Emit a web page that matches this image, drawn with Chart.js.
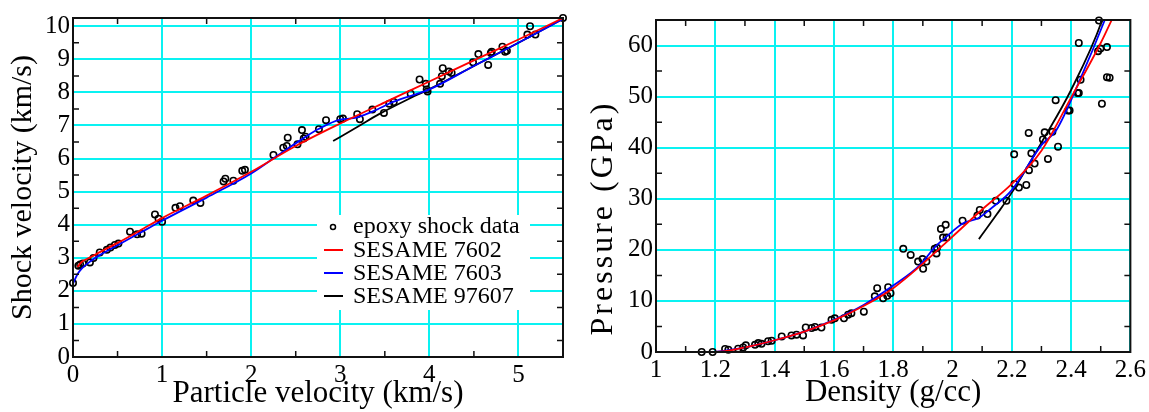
<!DOCTYPE html>
<html>
<head>
<meta charset="utf-8">
<script src="https://cdn.jsdelivr.net/npm/chart.js@4.4.1/dist/chart.umd.min.js"></script>
<style>
  html, body { margin: 0; padding: 0; background: #fff; }
  #wrap { position: relative; width: 1149px; height: 412px; overflow: hidden; }
  canvas { position: absolute; top: 0; }
  #hugoniotUs { left: 0; }
  #hugoniotP { left: 580px; }
</style>
</head>
<body>
<div id="wrap">
  <canvas id="hugoniotUs" width="575" height="412"></canvas>
  <canvas id="hugoniotP" width="569" height="412"></canvas>
</div>
<script>
// ---- Left panel: shock velocity vs particle velocity (km/s) ----
const usTicksX = [0, 1, 2, 3, 4, 5];
const usTicksY = [0, 1, 2, 3, 4, 5, 6, 7, 8, 9, 10];

const usData = [
  [0, 2.24], [0.06, 2.76], [0.08, 2.80], [0.11, 2.83], [0.19, 2.86], [0.23, 2.99],
  [0.30, 3.16], [0.38, 3.24], [0.42, 3.31], [0.47, 3.39], [0.51, 3.43], [0.64, 3.79],
  [0.72, 3.71], [0.77, 3.73], [0.92, 4.31], [0.96, 4.18], [1.00, 4.09], [1.15, 4.51],
  [1.20, 4.56], [1.35, 4.73], [1.43, 4.66], [1.69, 5.31], [1.71, 5.39], [1.80, 5.33],
  [1.90, 5.63], [1.93, 5.66], [2.25, 6.11], [2.36, 6.33], [2.40, 6.38], [2.41, 6.63],
  [2.52, 6.43], [2.59, 6.61], [2.61, 6.66], [2.57, 6.86], [2.76, 6.89], [2.84, 7.16],
  [3.00, 7.19], [3.03, 7.21], [3.19, 7.34], [3.22, 7.19], [3.36, 7.48], [3.49, 7.38],
  [3.55, 7.66], [3.60, 7.71], [3.79, 7.96], [3.89, 8.39], [3.96, 8.26], [3.97, 8.09],
  [3.98, 8.03], [4.12, 8.26], [4.14, 8.49], [4.15, 8.73], [4.22, 8.63], [4.25, 8.59],
  [4.49, 8.91], [4.55, 9.16], [4.66, 8.83], [4.69, 9.19], [4.70, 9.23], [4.82, 9.38],
  [4.85, 9.23], [4.87, 9.26], [5.10, 9.75], [5.13, 10.0], [5.19, 9.75], [5.50, 10.25]
];
const us7602 = [
  [0.05, 2.72], [0.1, 2.88], [0.2, 3.02], [0.3, 3.17], [0.5, 3.45], [0.75, 3.82],
  [1, 4.2], [1.5, 4.88], [2, 5.6], [2.5, 6.38], [3, 7.06], [3.5, 7.7], [4, 8.33],
  [4.5, 8.97], [5, 9.6], [5.5, 10.25]
];
const us7603 = [
  [0, 2.22], [0.05, 2.5], [0.1, 2.68], [0.2, 2.9], [0.3, 3.08], [0.5, 3.38],
  [0.75, 3.75], [1, 4.12], [1.5, 4.82], [2, 5.55], [2.3, 6.1], [2.55, 6.55],
  [2.76, 6.9], [3.0, 7.18], [3.15, 7.22], [3.36, 7.42], [3.6, 7.72], [4, 8.09],
  [4.5, 8.8], [5, 9.5], [5.5, 10.22]
];
const us97607 = [
  [2.92, 6.53], [3.2, 6.97], [3.44, 7.35], [3.75, 7.78], [4, 8.1], [4.5, 8.8],
  [5, 9.5], [5.5, 10.23]
];

// ---- Right panel: pressure (GPa) vs density (g/cc) ----
const pTicksX = [1, 1.2, 1.4, 1.6, 1.8, 2, 2.2, 2.4, 2.6];
const pTicksY = [0, 10, 20, 30, 40, 50, 60];

const pData = [
  [1.154, 0], [1.191, 0], [1.233, 0.6], [1.244, 0.45], [1.277, 0.65], [1.294, 0.9],
  [1.303, 1.3], [1.334, 1.4], [1.345, 1.75], [1.356, 1.6], [1.378, 2.1], [1.39, 2.2],
  [1.424, 3.05], [1.457, 3.25], [1.474, 3.4], [1.496, 3.25], [1.505, 4.8], [1.525, 4.7],
  [1.536, 4.9], [1.558, 4.8], [1.592, 6.3], [1.603, 6.6], [1.634, 6.6], [1.648, 7.3],
  [1.659, 7.6], [1.701, 7.9], [1.738, 10.9], [1.746, 12.5], [1.766, 10.5], [1.78, 11.0],
  [1.783, 12.7], [1.791, 11.5], [1.834, 20.2], [1.859, 19.0], [1.884, 17.7], [1.899, 18.2],
  [1.901, 16.3], [1.912, 17.7], [1.940, 20.2], [1.946, 19.3], [1.948, 20.4], [1.961, 24.1],
  [1.968, 22.4], [1.977, 24.9], [1.980, 22.4], [2.034, 25.7], [2.084, 26.7], [2.092, 27.8],
  [2.118, 27.0], [2.146, 29.6], [2.182, 29.6], [2.209, 32.9], [2.224, 32.2], [2.249, 32.7],
  [2.208, 38.7], [2.258, 35.6], [2.266, 38.9], [2.277, 36.9], [2.257, 42.9], [2.305, 41.6],
  [2.311, 43.0], [2.337, 43.1], [2.322, 37.8], [2.356, 40.2], [2.348, 49.3], [2.39, 47.3],
  [2.395, 47.3], [2.422, 50.7], [2.426, 50.7], [2.432, 53.3], [2.426, 60.5], [2.491, 58.9],
  [2.499, 59.4], [2.494, 64.9], [2.521, 59.7], [2.504, 48.6], [2.521, 53.8], [2.530, 53.7]
];
const p7602 = [
  [1.0, 0], [1.2, 0], [1.3, 0.9], [1.4, 2.3], [1.5, 4.0], [1.6, 6.2], [1.7, 9.0],
  [1.8, 12.5], [1.9, 17.3], [2.0, 22.6], [2.1, 27.9], [2.2, 32.9], [2.3, 39.4],
  [2.4, 49.8], [2.5, 60.5], [2.545, 66]
];
const p7603 = [
  [1.2, 0], [1.3, 0.9], [1.4, 2.3], [1.5, 4.0], [1.6, 6.3], [1.7, 9.2], [1.8, 13.0],
  [1.89, 17.0], [1.94, 20.5], [1.98, 22.6], [2.036, 25.2], [2.087, 26.2], [2.128, 28.0],
  [2.2, 31.7], [2.3, 40.5], [2.35, 43.4], [2.429, 53.2], [2.513, 64.9], [2.52, 66]
];
const p97607 = [
  [2.089, 22.1], [2.15, 27.0], [2.2, 31.2], [2.3, 41.0], [2.4, 51.3], [2.505, 65], [2.51, 66]
];

const seriesNames = ['epoxy shock data', 'SESAME 7602', 'SESAME 7603', 'SESAME 97607'];
const seriesColors = ['#000000', '#ff0000', '#0000ff', '#000000'];

const SERIF = "'Liberation Serif', 'Times New Roman', serif";
const CYAN = 'rgb(10, 242, 242)';

const toXY = arr => arr.map(([x, y]) => ({ x, y }));

// box outline + small inward minor ticks on all four sides
const framePlugin = {
  id: 'frame',
  afterDraw(chart, args, opts) {
    const { ctx, chartArea: a, scales } = chart;
    ctx.save();
    ctx.strokeStyle = '#111';
    ctx.lineWidth = 1.5;
    const len = 6;
    opts.minorX.forEach(v => {
      const x = scales.x.getPixelForValue(v);
      ctx.beginPath();
      ctx.moveTo(x, a.bottom); ctx.lineTo(x, a.bottom - len);
      ctx.moveTo(x, a.top); ctx.lineTo(x, a.top + len);
      ctx.stroke();
    });
    opts.minorY.forEach(v => {
      const y = scales.y.getPixelForValue(v);
      ctx.beginPath();
      ctx.moveTo(a.left, y); ctx.lineTo(a.left + len, y);
      ctx.moveTo(a.right, y); ctx.lineTo(a.right - len, y);
      ctx.stroke();
    });
    ctx.lineWidth = 2;
    ctx.strokeRect(a.left, a.top, a.right - a.left, a.bottom - a.top);
    ctx.restore();
  }
};

// legend sits inside the left plot on a white patch
const insideLegend = {
  id: 'insideLegend',
  afterDraw(chart, args, opts) {
    if (!opts.show) return;
    const { ctx } = chart;
    ctx.save();
    ctx.fillStyle = '#fff';
    ctx.fillRect(317, 215, 213, 95);
    ctx.font = '24px ' + SERIF;
    ctx.textBaseline = 'middle';
    ctx.fillStyle = '#000';
    const rows = [227, 251, 274, 297];
    seriesNames.forEach((name, i) => {
      const y = rows[i];
      if (i === 0) {
        ctx.beginPath();
        ctx.arc(333, y, 2.5, 0, Math.PI * 2);
        ctx.lineWidth = 1.5;
        ctx.strokeStyle = '#000';
        ctx.stroke();
      } else {
        ctx.beginPath();
        ctx.moveTo(324, y - 1); ctx.lineTo(343, y - 1);
        ctx.lineWidth = 2;
        ctx.strokeStyle = seriesColors[i];
        ctx.stroke();
      }
      ctx.fillText(name, 353, y);
    });
    ctx.restore();
  }
};

// the right y title is spread out and sits below centre in the original
const sideTitle = {
  id: 'sideTitle',
  afterDraw(chart, args, opts) {
    if (!opts.text) return;
    const { ctx } = chart;
    ctx.save();
    ctx.translate(opts.x, opts.y);
    ctx.rotate(-Math.PI / 2);
    ctx.font = opts.size + 'px ' + SERIF;
    if ('letterSpacing' in ctx) ctx.letterSpacing = opts.spacing + 'px';
    ctx.fillStyle = '#000';
    ctx.textAlign = 'center';
    ctx.textBaseline = 'middle';
    ctx.fillText(opts.text, 0, 0);
    ctx.restore();
  }
};

function midpoints(ticks) {
  const out = [];
  for (let i = 0; i < ticks.length - 1; i++) out.push((ticks[i] + ticks[i + 1]) / 2);
  return out;
}

function makeChart(id, cfg) {
  const lineSet = (name, pts, color, order) => ({
    label: name, data: toXY(pts), showLine: true, borderColor: color,
    borderWidth: 1.8, pointRadius: 0, cubicInterpolationMode: 'monotone', order
  });
  const tickFont = { family: SERIF, size: 25 };
  return new Chart(document.getElementById(id), {
    type: 'scatter',
    data: {
      datasets: [
        lineSet(seriesNames[1], cfg.red, seriesColors[1], 1),
        lineSet(seriesNames[2], cfg.blue, seriesColors[2], 2),
        lineSet(seriesNames[3], cfg.black, seriesColors[3], 3),
        {
          label: seriesNames[0], data: toXY(cfg.points), order: 4, clip: false,
          pointRadius: 3.2, pointBorderWidth: 1.6, pointBorderColor: '#000',
          pointBackgroundColor: 'rgba(0,0,0,0)'
        }
      ]
    },
    options: {
      responsive: false,
      animation: false,
      layout: { padding: cfg.padding },
      plugins: {
        legend: { display: false },
        tooltip: { enabled: false },
        frame: { minorX: midpoints(cfg.ticksX), minorY: midpoints(cfg.ticksY) },
        insideLegend: { show: !!cfg.legend },
        sideTitle: cfg.sideTitle || {}
      },
      scales: {
        x: {
          type: 'linear', min: cfg.xMin, max: cfg.xMax,
          afterBuildTicks: s => { s.ticks = cfg.ticksX.map(v => ({ value: v })); },
          afterFit: s => { s.height = cfg.xAxisH; },
          grid: { color: CYAN, lineWidth: 2, drawTicks: false },
          border: { display: false },
          ticks: {
            font: tickFont, color: '#000', padding: 3, maxRotation: 0, autoSkip: false,
            callback: v => String(Math.round(v * 10) / 10)
          },
          title: { display: true, text: cfg.xTitle, color: '#000',
                   font: { family: SERIF, size: 31 }, padding: { top: 0, bottom: cfg.xTitlePad } }
        },
        y: {
          type: 'linear', min: cfg.yMin, max: cfg.yMax,
          afterBuildTicks: s => { s.ticks = cfg.ticksY.map(v => ({ value: v })); },
          afterFit: s => { s.width = cfg.yAxisW; },
          grid: { color: CYAN, lineWidth: 2, drawTicks: false },
          border: { display: false },
          ticks: { font: tickFont, color: '#000', padding: 3, autoSkip: false },
          title: { display: !!cfg.yTitle, text: cfg.yTitle, color: '#000',
                   font: { family: SERIF, size: 30 }, padding: { top: 5, bottom: 0 } }
        }
      }
    },
    plugins: [framePlugin, insideLegend, sideTitle]
  });
}

makeChart('hugoniotUs', {
  points: usData, red: us7602, blue: us7603, black: us97607,
  ticksX: usTicksX, ticksY: usTicksY,
  xMin: 0, xMax: 5.5, yMin: 0, yMax: 10.25,
  padding: { top: 15, right: 12, left: 0, bottom: 0 },
  xAxisH: 55, yAxisW: 73, xTitlePad: 0,
  xTitle: 'Particle velocity (km/s)', yTitle: 'Shock velocity (km/s)',
  legend: true
});

makeChart('hugoniotP', {
  points: pData, red: p7602, blue: p7603, black: p97607,
  ticksX: pTicksX, ticksY: pTicksY,
  xMin: 1, xMax: 2.6, yMin: 0, yMax: 65,
  padding: { top: 20, right: 18, left: 0, bottom: 0 },
  xAxisH: 60, yAxisW: 76, xTitlePad: 1,
  xTitle: 'Density (g/cc)', yTitle: '',
  sideTitle: { text: 'Pressure (GPa)', x: 24, y: 218, size: 32, spacing: 3 },
  legend: false
});
</script>
</body>
</html>
